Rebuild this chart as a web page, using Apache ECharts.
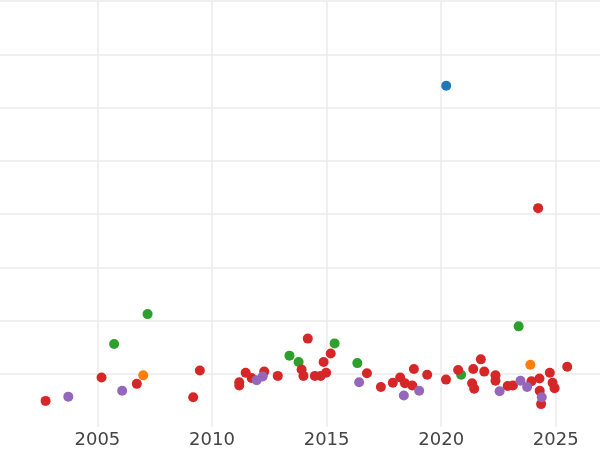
<!DOCTYPE html>
<html>
<head>
<meta charset="utf-8">
<script src="https://cdn.jsdelivr.net/npm/echarts@6/dist/echarts.min.js"></script>
<style>html,body{margin:0;padding:0;background:#fff}#c{width:600px;height:450px}</style>
</head>
<body>
<div id="c"></div>
<script>
const xTickLabels = [2005, 2010, 2015, 2020, 2025];

const blueX = [2020.22];
const blueY = [6.41];

const orangeX = [2007.0, 2023.89];
const orangeY = [0.97, 1.17];

const greenX = [2005.73, 2007.19, 2013.38, 2013.78, 2015.35, 2016.34, 2020.87, 2023.38];
const greenY = [1.56, 2.12, 1.34, 1.22, 1.57, 1.20, 0.98, 1.89];

const redX = [2002.74, 2005.18, 2006.72, 2009.18, 2009.47, 2011.19, 2011.19, 2011.47, 2011.73, 2012.28,
  2012.87, 2013.91, 2013.99, 2014.18, 2014.49, 2014.74, 2014.98, 2014.87, 2015.18, 2016.76,
  2017.37, 2017.89, 2018.21, 2018.42, 2018.81, 2018.74, 2019.39, 2020.21, 2020.74, 2021.40,
  2021.35, 2021.44, 2021.73, 2021.88, 2022.37, 2022.37, 2022.90, 2023.13, 2023.94, 2024.29,
  2024.30, 2024.36, 2024.23, 2024.74, 2024.86, 2024.95, 2025.50];
const redY = [0.49, 0.93, 0.81, 0.56, 1.06, 0.84, 0.78, 1.02, 0.92, 1.04,
  0.96, 1.08, 0.96, 1.66, 0.96, 0.96, 1.02, 1.22, 1.38, 1.01,
  0.75, 0.83, 0.93, 0.82, 1.09, 0.78, 0.98, 0.89, 1.07, 1.09,
  0.82, 0.72, 1.27, 1.04, 0.97, 0.87, 0.77, 0.78, 0.86, 0.91,
  0.68, 0.43, 4.11, 1.02, 0.83, 0.73, 1.13];

const purpleX = [2003.73, 2006.08, 2011.95, 2012.21, 2016.42, 2018.37, 2019.04, 2022.55, 2023.46, 2023.75, 2024.39];
const purpleY = [0.57, 0.68, 0.88, 0.95, 0.84, 0.59, 0.68, 0.67, 0.87, 0.75, 0.56];

function pairs(xs, ys) { return xs.map((x, i) => [x, ys[i]]); }

const chart = echarts.init(document.getElementById('c'), null, {renderer: 'canvas'});
const gridColor = '#ebebeb';
function sc(name, color, xs, ys) {
  return {
    name: name, type: 'scatter', symbol: 'circle', symbolSize: 10,
    itemStyle: {color: color, opacity: 1},
    emphasis: {disabled: true},
    data: pairs(xs, ys)
  };
}
chart.setOption({
  animation: false,
  backgroundColor: '#ffffff',
  grid: {left: 0, right: 0, top: 1, bottom: 23, containLabel: false},
  xAxis: {
    type: 'value', min: 2000.75, max: 2026.93,
    axisLine: {show: false},
    axisTick: {show: false, customValues: xTickLabels},
    axisLabel: {show: true, customValues: xTickLabels, color: '#444444', fontFamily: 'DejaVu Sans', fontSize: 18, margin: 4,
      formatter: v => String(v)},
    splitLine: {show: true, lineStyle: {color: gridColor, width: 1.5}}
  },
  yAxis: {
    type: 'value', min: 0, max: 8, interval: 1,
    axisLine: {show: false}, axisTick: {show: false}, axisLabel: {show: false},
    splitLine: {show: true, showMinLine: false, lineStyle: {color: gridColor, width: 1.5}}
  },
  series: [
    sc('blue', '#1f77b4', blueX, blueY),
    sc('orange', '#ff7f0e', orangeX, orangeY),
    sc('green', '#2ca02c', greenX, greenY),
    sc('red', '#d62728', redX, redY),
    sc('purple', '#9467bd', purpleX, purpleY)
  ]
});
</script>
</body>
</html>
